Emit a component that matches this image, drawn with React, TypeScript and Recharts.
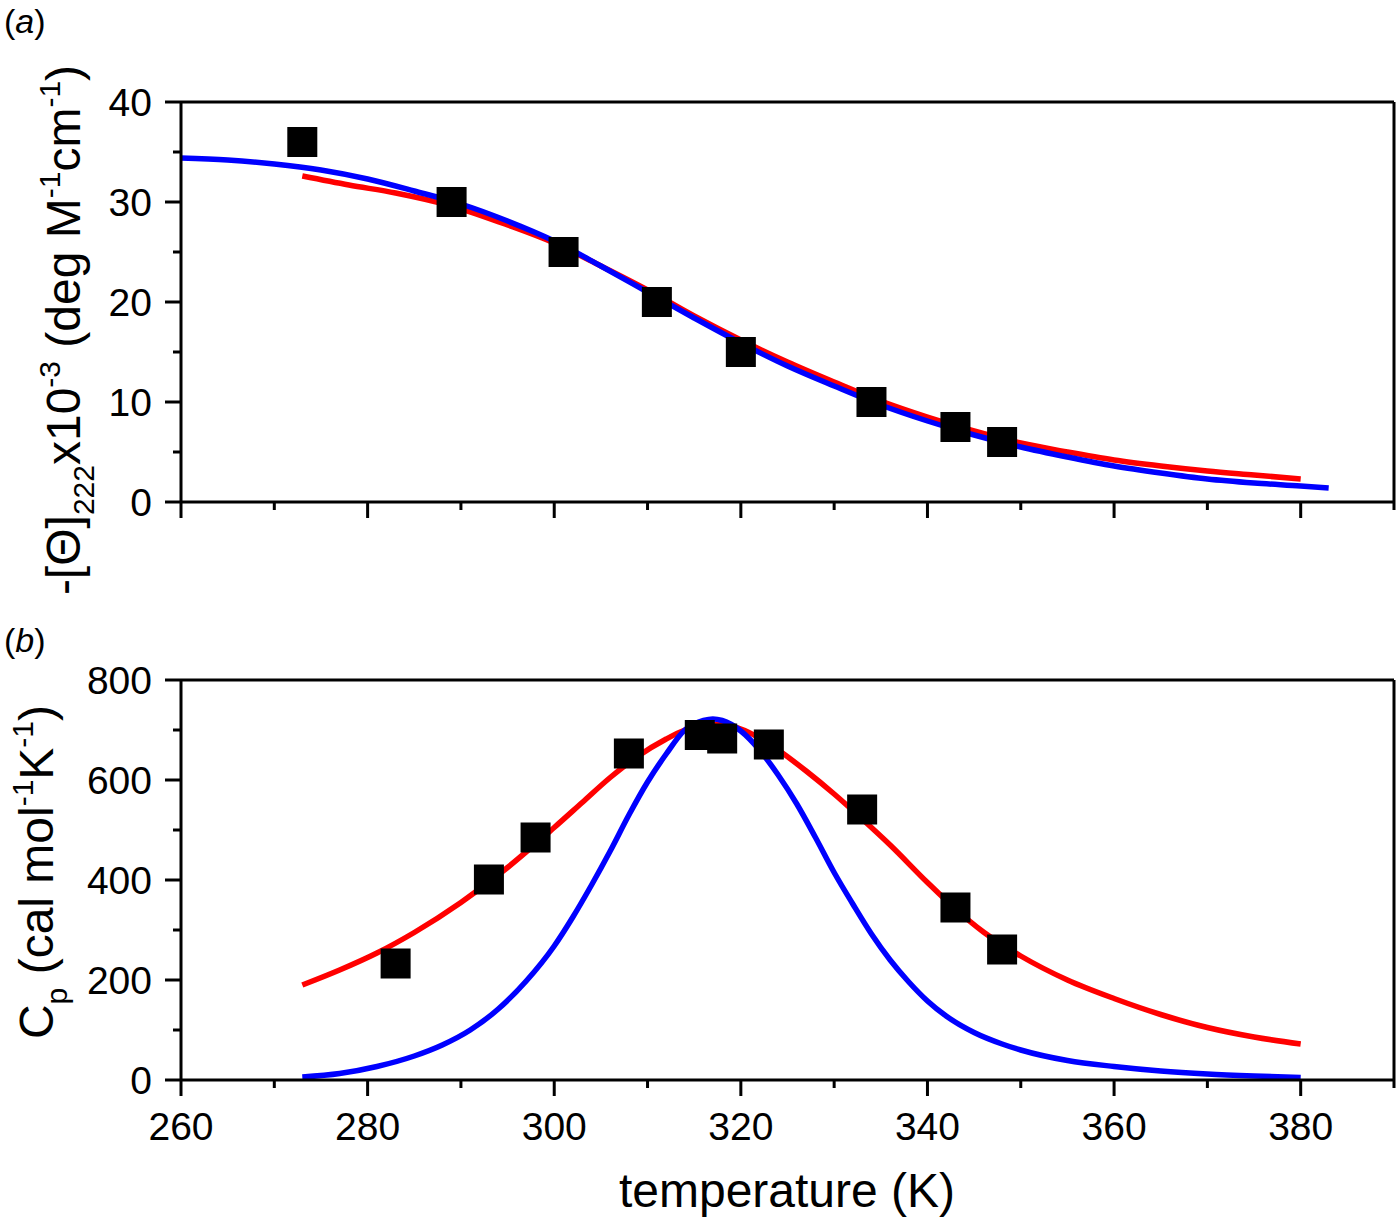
import React from 'react';
import { ComposedChart, Line, Scatter, XAxis, YAxis, ReferenceLine } from 'recharts';

// panel (a): CD signal at 222 nm
const cdTemps = [273, 289, 301, 311, 320, 334, 343, 348];
const cdValues = [36, 30, 25, 20, 15, 10, 7.5, 6];

const cdRedT = [273, 278, 283, 289, 295, 300, 305, 310, 315, 320, 325, 330, 335, 340, 345, 350, 355, 360, 365, 370, 375, 380];
const cdRedV = [32.6, 31.7, 30.9, 29.6, 27.7, 25.9, 23.6, 21.2, 18.6, 16.2, 14.0, 12.0, 10.1, 8.5, 7.1, 5.9, 5.0, 4.2, 3.6, 3.1, 2.7, 2.3];

const cdBlueT = [260, 265, 270, 275, 280, 285, 290, 295, 300, 305, 310, 315, 320, 325, 330, 335, 340, 345, 350, 355, 360, 365, 370, 375, 380, 383];
const cdBlueV = [34.4, 34.2, 33.8, 33.2, 32.3, 31.1, 29.8, 28.1, 26.1, 23.6, 21.0, 18.4, 15.9, 13.6, 11.6, 9.7, 8.1, 6.7, 5.5, 4.5, 3.6, 2.9, 2.3, 1.9, 1.6, 1.4];

// panel (b): heat capacity
const cpTemps = [283, 293, 298, 308, 315.6, 318, 323, 333, 343, 348];
const cpValues = [233, 401, 485, 653, 690, 683, 671, 541, 345, 261];

const cpRedT = [273, 277, 281, 285, 290, 295, 300, 303, 306, 309, 312, 314, 316, 318, 320, 322, 324, 327, 330, 333, 336, 340, 343, 346, 350, 355, 360, 365, 370, 375, 380];
const cpRedV = [190, 220, 254, 295, 355, 425, 505, 555, 605, 648, 682, 700, 710, 711, 702, 684, 660, 618, 572, 522, 470, 395, 342, 296, 248, 200, 163, 131, 105, 86, 72];

const cpBlueT = [273, 277, 281, 285, 288, 291, 294, 297, 300, 302, 304, 306, 308, 310, 312, 314, 315, 316, 317, 318, 320, 322, 324, 326, 328, 330, 332, 334, 336, 338, 340, 342, 345, 348, 350, 355, 360, 365, 370, 375, 380];
const cpBlueV = [6, 13, 27, 48, 70, 100, 142, 198, 268, 326, 390, 458, 530, 596, 652, 700, 712, 719, 722, 719, 698, 660, 610, 552, 485, 415, 352, 292, 240, 196, 158, 128, 95, 72, 60, 39, 27, 18, 12, 8, 5];

const xTicks = [260, 270, 280, 290, 300, 310, 320, 330, 340, 350, 360, 370, 380, 390];
const cdTicks = [0, 5, 10, 15, 20, 25, 30, 35, 40];
const cpTicks = [0, 100, 200, 300, 400, 500, 600, 700, 800];

const pairs = (ts: number[], vs: number[]) => ts.map((t, i) => ({ t, v: vs[i] }));

const FONT = '"Liberation Sans", Arial, sans-serif';

const XTick = (props: any) => {
  const { x, y, payload, showLabel } = props;
  const major = payload.value % 20 === 0;
  return (
    <g>
      <line x1={x} x2={x} y1={y} y2={y + (major ? 16 : 8)} stroke="#000" strokeWidth={3} />
      {showLabel && major ? (
        <text x={x} y={y + 60} textAnchor="middle" fontSize={39} fontFamily={FONT} fill="#000">
          {payload.value}
        </text>
      ) : null}
    </g>
  );
};

const YTick = (props: any) => {
  const { x, y, payload, step } = props;
  const major = payload.value % step === 0;
  return (
    <g>
      <line x1={x - (major ? 16 : 8)} x2={x} y1={y} y2={y} stroke="#000" strokeWidth={3} />
      {major ? (
        <text x={x - 29} y={y} dy={14} textAnchor="end" fontSize={39} fontFamily={FONT} fill="#000">
          {payload.value}
        </text>
      ) : null}
    </g>
  );
};

const Square = (props: any) => (
  <rect x={props.cx - 15} y={props.cy - 15} width={30} height={30} fill="#000" />
);

const TopYLabel = () => (
  <text x={80} y={330} transform="rotate(-90, 80, 330)" textAnchor="middle" fontSize={48} fontFamily={FONT} fill="#000">
    <tspan>-[Θ]</tspan>
    <tspan fontSize={30} dy={14}>222</tspan>
    <tspan dy={-14}>x10</tspan>
    <tspan fontSize={30} dy={-20}>-3</tspan>
    <tspan dy={20}> (deg M</tspan>
    <tspan fontSize={30} dy={-20}>-1</tspan>
    <tspan dy={20}>cm</tspan>
    <tspan fontSize={30} dy={-20}>-1</tspan>
    <tspan dy={20}>)</tspan>
  </text>
);

const BottomYLabel = () => (
  <text x={53} y={272} transform="rotate(-90, 53, 272)" textAnchor="middle" fontSize={48} fontFamily={FONT} fill="#000">
    <tspan>C</tspan>
    <tspan fontSize={30} dy={14}>p</tspan>
    <tspan dy={-14}> (cal mol</tspan>
    <tspan fontSize={30} dy={-20}>-1</tspan>
    <tspan dy={20}>K</tspan>
    <tspan fontSize={30} dy={-20}>-1</tspan>
    <tspan dy={20}>)</tspan>
  </text>
);

const XTitle = () => (
  <text x={787} y={607} textAnchor="middle" fontSize={48} fontFamily={FONT} fill="#000">
    temperature (K)
  </text>
);

const PanelTag = ({ letter, y }: { letter: string; y: number }) => (
  <text x={4} y={y} fontSize={34} fontFamily={FONT} fill="#000">
    (<tspan fontStyle="italic">{letter}</tspan>)
  </text>
);

const axisLine = { stroke: '#000', strokeWidth: 3 };

export default function App() {
  return (
    <div style={{ position: 'absolute', left: 0, top: 0, width: 1400, height: 1227, background: '#fff' }}>
      <div style={{ position: 'absolute', left: 0, top: 0 }}>
        <ComposedChart width={1400} height={600} margin={{ top: 102, right: 6, bottom: 58, left: 0 }}>
          <XAxis dataKey="t" type="number" domain={[260, 390]} allowDataOverflow ticks={xTicks} interval={0}
                 height={40} tickSize={0} tickMargin={0} tickLine={false} axisLine={axisLine}
                 tick={<XTick showLabel={false} />} />
          <YAxis type="number" domain={[0, 40]} allowDataOverflow ticks={cdTicks} interval={0}
                 width={181} tickSize={0} tickMargin={0} tickLine={false} axisLine={axisLine}
                 tick={<YTick step={10} />} label={<TopYLabel />} />
          <ReferenceLine y={40} stroke="#000" strokeWidth={3} />
          <ReferenceLine x={390} stroke="#000" strokeWidth={3} />
          <Scatter data={pairs(cdTemps, cdValues)} dataKey="v" shape={<Square />} isAnimationActive={false} />
          <Line data={pairs(cdRedT, cdRedV)} dataKey="v" type="monotone" stroke="#ff0000" strokeWidth={5.5}
                dot={false} activeDot={false} isAnimationActive={false} />
          <Line data={pairs(cdBlueT, cdBlueV)} dataKey="v" type="monotone" stroke="#0000ff" strokeWidth={5.5}
                dot={false} activeDot={false} isAnimationActive={false} />
        </ComposedChart>
        <svg width={70} height={46} style={{ position: 'absolute', left: 0, top: 0 }}>
          <PanelTag letter="a" y={33} />
        </svg>
      </div>
      <div style={{ position: 'absolute', left: 0, top: 600 }}>
        <ComposedChart width={1400} height={627} margin={{ top: 80, right: 6, bottom: 7, left: 0 }}>
          <XAxis dataKey="t" type="number" domain={[260, 390]} allowDataOverflow ticks={xTicks} interval={0}
                 height={140} tickSize={0} tickMargin={0} tickLine={false} axisLine={axisLine}
                 tick={<XTick showLabel />} label={<XTitle />} />
          <YAxis type="number" domain={[0, 800]} allowDataOverflow ticks={cpTicks} interval={0}
                 width={181} tickSize={0} tickMargin={0} tickLine={false} axisLine={axisLine}
                 tick={<YTick step={200} />} label={<BottomYLabel />} />
          <ReferenceLine y={800} stroke="#000" strokeWidth={3} />
          <ReferenceLine x={390} stroke="#000" strokeWidth={3} />
          <Scatter data={pairs(cpTemps, cpValues)} dataKey="v" shape={<Square />} isAnimationActive={false} />
          <Line data={pairs(cpRedT, cpRedV)} dataKey="v" type="monotone" stroke="#ff0000" strokeWidth={5.5}
                dot={false} activeDot={false} isAnimationActive={false} />
          <Line data={pairs(cpBlueT, cpBlueV)} dataKey="v" type="monotone" stroke="#0000ff" strokeWidth={5.5}
                dot={false} activeDot={false} isAnimationActive={false} />
        </ComposedChart>
        <svg width={70} height={70} style={{ position: 'absolute', left: 0, top: 0 }}>
          <PanelTag letter="b" y={52} />
        </svg>
      </div>
    </div>
  );
}
